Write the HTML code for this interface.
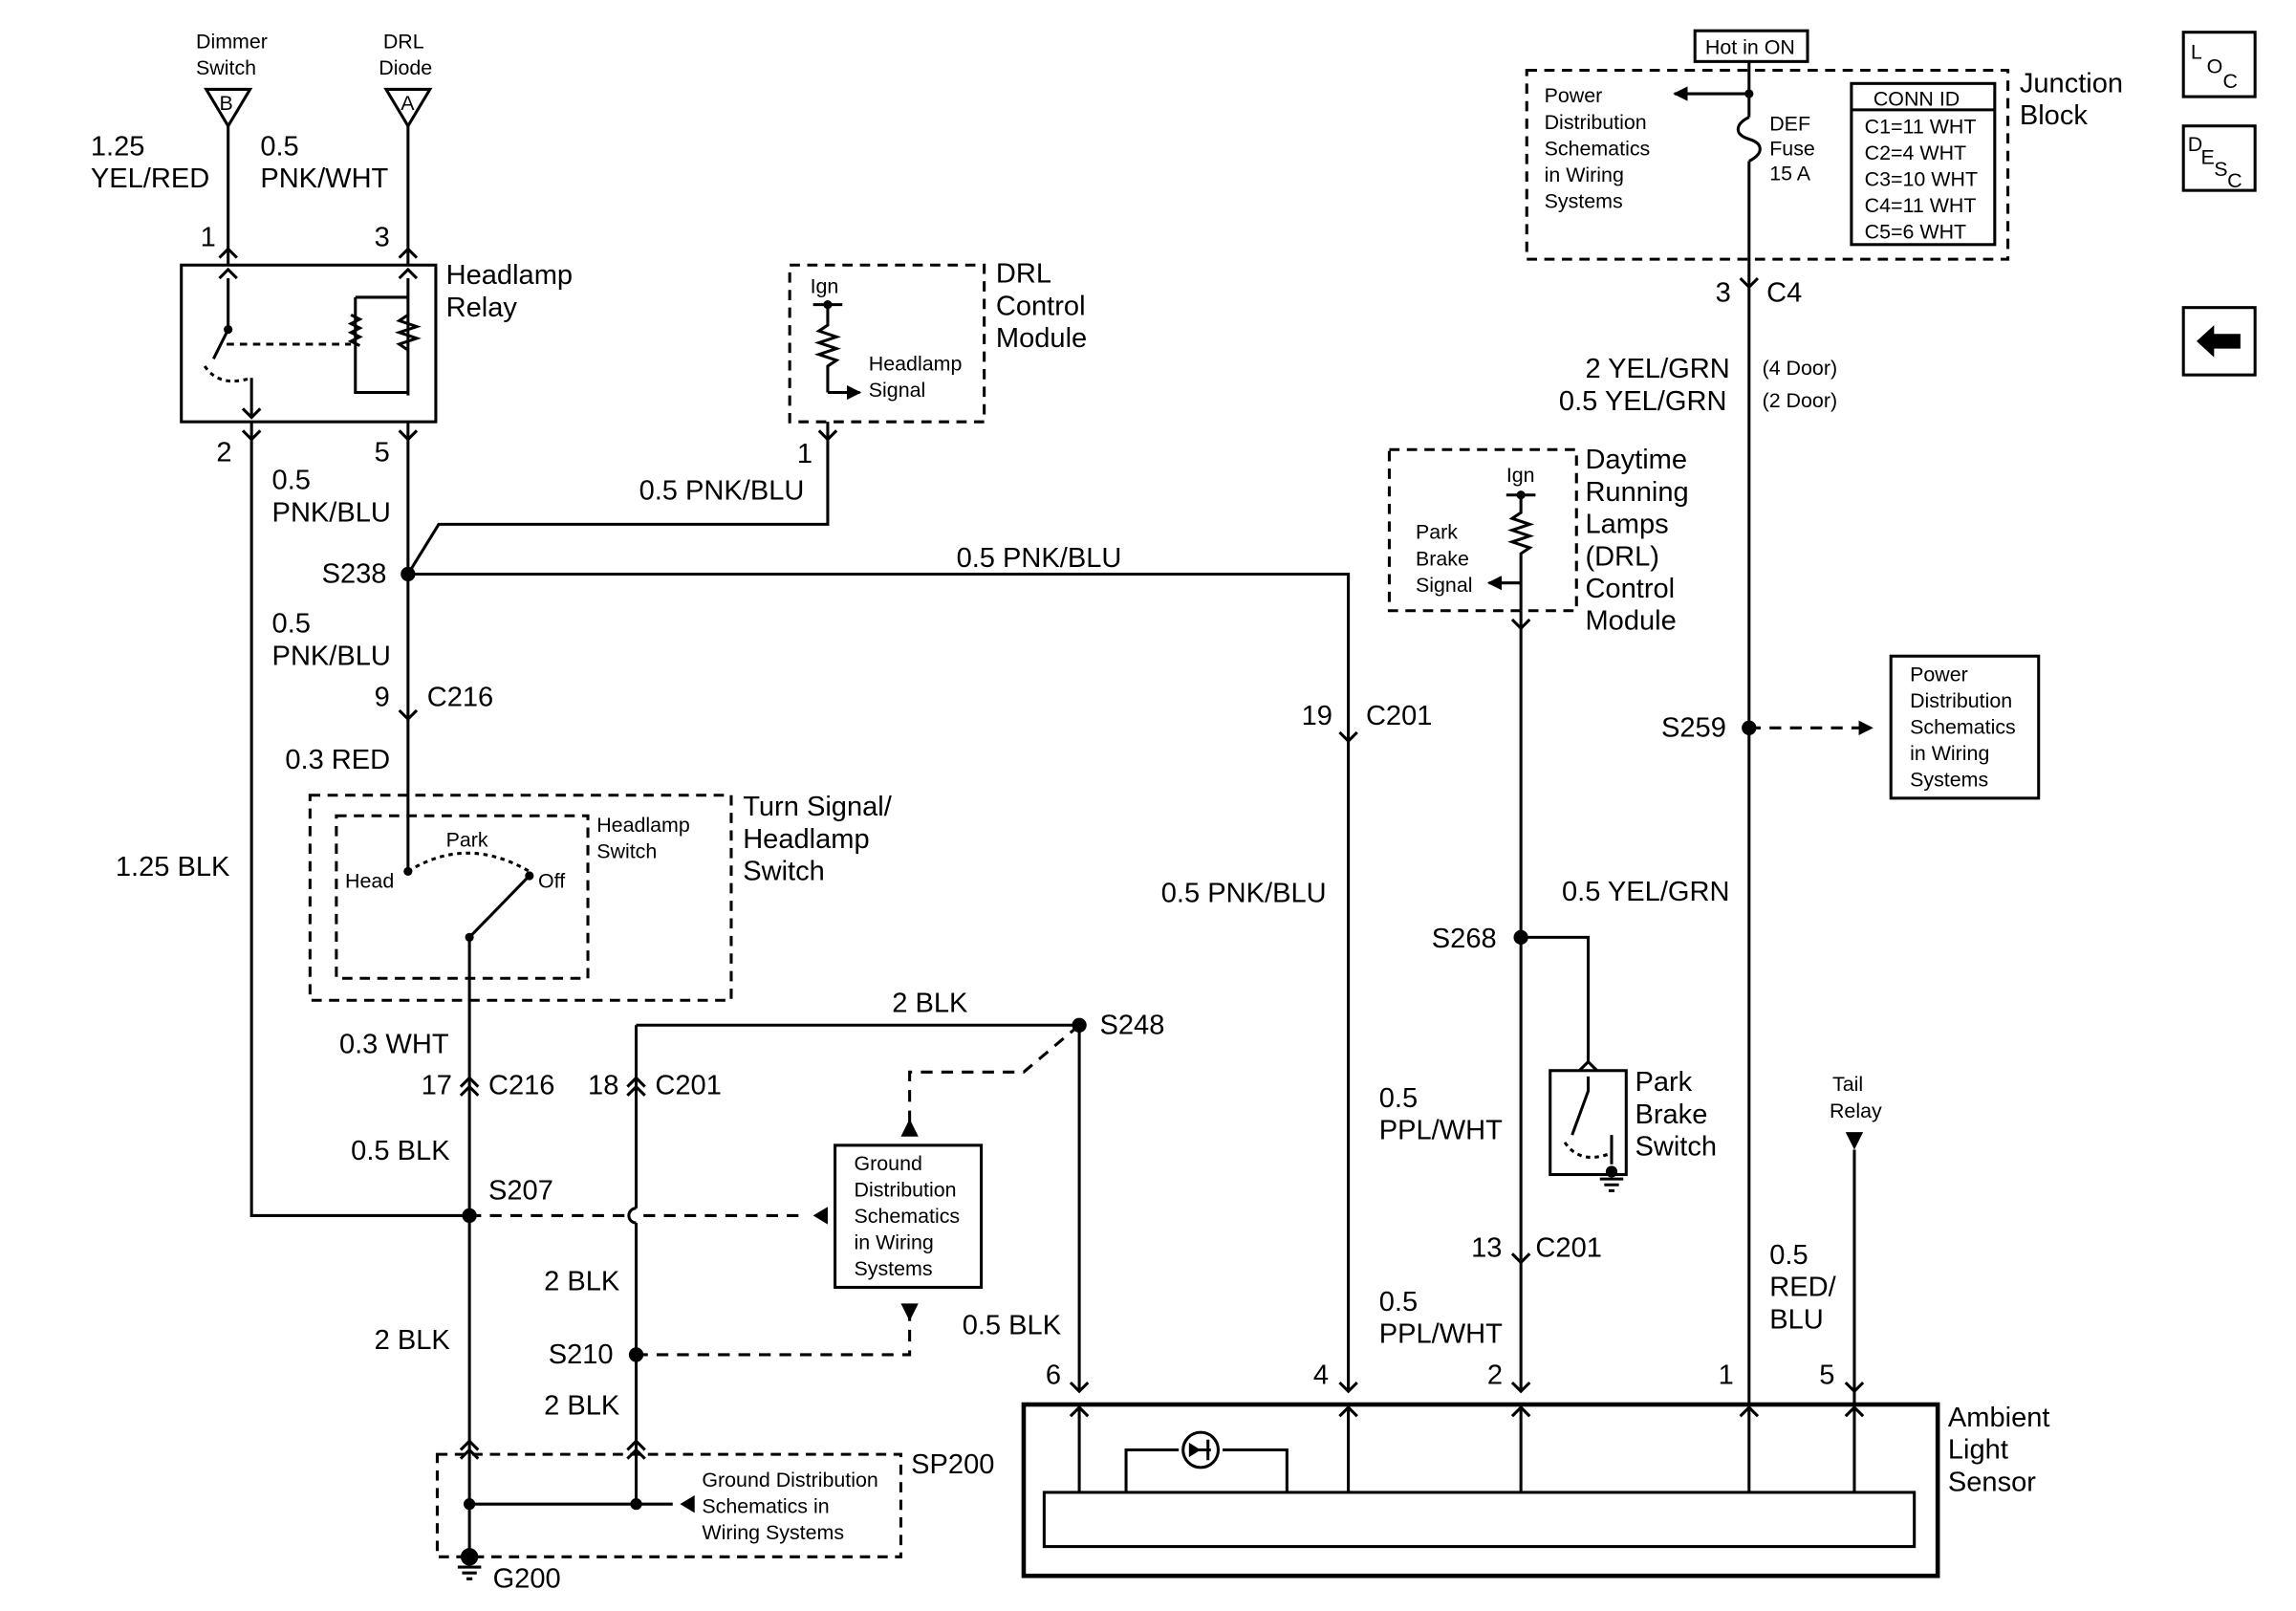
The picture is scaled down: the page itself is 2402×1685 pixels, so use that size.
<!DOCTYPE html>
<html><head><meta charset="utf-8"><style>
html,body{margin:0;padding:0;background:#fff}
svg{display:block}
text{font-family:"Liberation Sans",sans-serif;fill:#000}
.s{font-size:14px}.m{font-size:19px}
</style></head><body>
<svg width="2402" height="1685" viewBox="0 0 1570 1100" preserveAspectRatio="none" xmlns="http://www.w3.org/2000/svg">
<defs>
<marker id="ah" viewBox="0 0 10 10" refX="9" refY="5" markerWidth="5" markerHeight="5" orient="auto"><path d="M0,0L10,5L0,10z"/></marker>
</defs>
<g fill="none" stroke="#000" stroke-width="2">
<path d="M141,61H171L156,86Z M264,61H294L279,86Z"/>
<path d="M156,86V181 M279,86V181"/>
<path d="M150,176l6,-6l6,6 M273,176l6,-6l6,6"/>
<rect x="124" y="181" width="174" height="107"/>
<path d="M156,190V225l-10,20 M150,190l6,-6l6,6 M172,258V285 M166,279l6,6l6,-6"/>
<path d="M140,250q10,15 32,8" stroke-dasharray="3,3"/>
<path d="M155,235H240" stroke-dasharray="5,4"/>
<path d="M279,190V270 M243,203H279 M243,203V268H279 M273,190l6,-6l6,6"/>
<path d="M240,215l6,3l-6,3l6,3l-6,3l6,3l-6,3l6,3"/>
<path d="M279,215l-6,4l12,4l-12,4l12,4l-12,4l6,4"/>
<path d="M172,288V830H321 M166,294l6,6l6,-6 M273,294l6,6l6,-6"/>
<path d="M279,288V595 M273,485l6,6l6,-6"/>
<path d="M279,392L300,358H566V288 M560,294l6,6l6,-6"/>
<path d="M279,392H922V950 M916,500l6,6l6,-6 M916,944l6,6l6,-6"/>
<rect x="540" y="181" width="133" height="107" stroke-dasharray="7,5"/>
<path d="M566,208V222l-6,4l12,4l-12,4l12,4l-12,4l12,4l-6,4V268 M556,208H576"/>
<path d="M566,268H588" marker-end="url(#ah)"/>
<rect x="212" y="543" width="288" height="140" stroke-dasharray="7,5"/>
<rect x="230" y="557" width="172" height="111" stroke-dasharray="7,5"/>
<path d="M279,595q40,-25 83,0" stroke-dasharray="3,3"/>
<path d="M321,640L360,600 M321,640V830"/>
<path d="M315,742l6,-6l6,6 M315,748l6,-6l6,6 M429,742l6,-6l6,6 M429,748l6,-6l6,6"/>
<path d="M321,830V1063"/>
<path d="M435,700V825 M435,835V1027 M435,825a5,5 0 0 0 0,10"/>
<path d="M435,700H738V950 M732,944l6,6l6,-6"/>
<path d="M321,830H430 M440,830H550" stroke-dasharray="8,6"/>
<path d="M738,700L700,732H622V770" stroke-dasharray="8,6"/>
<path d="M435,925H622V895" stroke-dasharray="8,6"/>
<rect x="571" y="782" width="100" height="97"/>
<rect x="299" y="993" width="317" height="70" stroke-dasharray="7,5"/>
<path d="M321,1027H460 M315,990l6,-6l6,6 M315,996l6,-6l6,6 M429,990l6,-6l6,6 M429,996l6,-6l6,6"/>
<path d="M313,1070H329 M316,1074H326 M319,1078H323"/>
<rect x="1159" y="21" width="77" height="21"/>
<rect x="1044" y="48" width="329" height="129" stroke-dasharray="7,5"/>
<rect x="1266" y="57" width="98" height="110"/>
<path d="M1266,75H1364"/>
<path d="M1196,42V80 M1196,110V960"/>
<path d="M1196,80c-10,5 -10,12 0,15c10,3 10,10 0,15"/>
<path d="M1196,64H1145" marker-end="url(#ah)"/>
<path d="M1190,190l6,6l6,-6"/>
<path d="M1196,497H1280" stroke-dasharray="8,6" marker-end="url(#ah)"/>
<rect x="1293" y="448" width="101" height="97"/>
<rect x="950" y="307" width="128" height="110" stroke-dasharray="7,5"/>
<path d="M1030,338H1050 M1040,338V350l-6,4l12,4l-12,4l12,4l-12,4l12,4l-6,4V417"/>
<path d="M1040,398H1018" marker-end="url(#ah)"/>
<path d="M1040,417V950 M1034,423l6,6l6,-6 M1034,856l6,6l6,-6 M1034,944l6,6l6,-6"/>
<path d="M1040,640H1086V725 M1080,731l6,-6l6,6"/>
<rect x="1060" y="731" width="52" height="71"/>
<path d="M1086,735V745L1075,775 M1102,775V795 M1094,805H1110 M1097,809H1107 M1100,813H1104"/>
<path d="M1070,780q10,15 30,8" stroke-dasharray="3,3"/>
<path d="M1268,785V960 M1262,944l6,6l6,-6"/>
<rect x="700" y="959" width="625" height="117" stroke-width="3"/>
<rect x="714" y="1019" width="595" height="37"/>
<path d="M738,959V1019 M922,959V1019 M1040,959V1019 M1196,959V1019 M1268,959V1019"/>
<path d="M732,967l6,-6l6,6 M916,967l6,-6l6,6 M1034,967l6,-6l6,6 M1190,967l6,-6l6,6 M1262,967l6,-6l6,6"/>
<path d="M770,1019V990H806 M836,990H880V1019"/>
<circle cx="821" cy="990" r="12"/>
<path d="M814,990H828 M826,983V997"/>
<rect x="1493" y="22" width="49" height="44"/>
<rect x="1493" y="86" width="49" height="44"/>
<rect x="1493" y="210" width="49" height="46"/>
</g>
<g fill="#000">
<circle cx="279" cy="392" r="5"/><circle cx="321" cy="830" r="5"/><circle cx="435" cy="925" r="5"/>
<circle cx="738" cy="700" r="5"/><circle cx="321" cy="1027" r="4"/><circle cx="435" cy="1027" r="4"/>
<circle cx="321" cy="1063" r="6"/><circle cx="1196" cy="497" r="5"/><circle cx="1040" cy="640" r="5"/>
<circle cx="1196" cy="64" r="3"/><circle cx="1040" cy="338" r="3"/><circle cx="566" cy="208" r="3"/>
<circle cx="156" cy="225" r="3"/><circle cx="279" cy="595" r="3"/><circle cx="362" cy="598" r="3"/><circle cx="321" cy="640" r="3"/>
<circle cx="1102" cy="800" r="4"/>
<path d="M556,830l10,-6v12z M465,1027l10,-6v12z M622,764l-6,12h12z M622,902l-6,-12h12z M1268,785l-6,-12h12z M813,985v10l8,-5z"/>
<path d="M1502,233L1514,222V228H1532V238H1514V244Z"/>
</g>
<g>
<text class="s" x="134" y="33">Dimmer</text><text class="s" x="134" y="51">Switch</text>
<text class="s" x="262" y="33">DRL</text><text class="s" x="259" y="51">Diode</text>
<text class="s" x="150" y="75">B</text><text class="s" x="274" y="75">A</text>
<text class="m" x="62" y="106">1.25</text><text class="m" x="62" y="128">YEL/RED</text>
<text class="m" x="178" y="106">0.5</text><text class="m" x="178" y="128">PNK/WHT</text>
<text class="m" x="137" y="168">1</text><text class="m" x="256" y="168">3</text>
<text class="m" x="305" y="194">Headlamp</text><text class="m" x="305" y="216">Relay</text>
<text class="m" x="148" y="315">2</text><text class="m" x="256" y="315">5</text>
<text class="m" x="186" y="334">0.5</text><text class="m" x="186" y="356">PNK/BLU</text>
<text class="m" x="437" y="341">0.5 PNK/BLU</text><text class="m" x="545" y="316">1</text>
<text class="m" x="220" y="398">S238</text><text class="m" x="654" y="387">0.5 PNK/BLU</text>
<text class="s" x="554" y="200">Ign</text><text class="s" x="594" y="253">Headlamp</text><text class="s" x="594" y="271">Signal</text>
<text class="m" x="681" y="193">DRL</text><text class="m" x="681" y="215">Control</text><text class="m" x="681" y="237">Module</text>
<text class="m" x="186" y="432">0.5</text><text class="m" x="186" y="454">PNK/BLU</text>
<text class="m" x="256" y="482">9</text><text class="m" x="292" y="482">C216</text>
<text class="m" x="195" y="525">0.3 RED</text>
<text class="m" x="890" y="495">19</text><text class="m" x="934" y="495">C201</text>
<text class="m" x="794" y="616">0.5 PNK/BLU</text>
<text class="m" x="508" y="557">Turn Signal/</text><text class="m" x="508" y="579">Headlamp</text><text class="m" x="508" y="601">Switch</text>
<text class="s" x="408" y="568">Headlamp</text><text class="s" x="408" y="586">Switch</text>
<text class="s" x="236" y="606">Head</text><text class="s" x="305" y="578">Park</text><text class="s" x="368" y="606">Off</text>
<text class="m" x="79" y="598">1.25 BLK</text>
<text class="m" x="232" y="719">0.3 WHT</text>
<text class="m" x="288" y="747">17</text><text class="m" x="334" y="747">C216</text>
<text class="m" x="402" y="747">18</text><text class="m" x="448" y="747">C201</text>
<text class="m" x="610" y="691">2 BLK</text><text class="m" x="752" y="706">S248</text>
<text class="m" x="240" y="792">0.5 BLK</text><text class="m" x="334" y="819">S207</text>
<text class="s" x="584" y="799">Ground</text><text class="s" x="584" y="817">Distribution</text><text class="s" x="584" y="835">Schematics</text><text class="s" x="584" y="853">in Wiring</text><text class="s" x="584" y="871">Systems</text>
<text class="m" x="372" y="881">2 BLK</text><text class="m" x="256" y="921">2 BLK</text>
<text class="m" x="375" y="931">S210</text><text class="m" x="372" y="966">2 BLK</text>
<text class="m" x="658" y="911">0.5 BLK</text>
<text class="m" x="623" y="1006">SP200</text>
<text class="s" x="480" y="1015">Ground Distribution</text><text class="s" x="480" y="1033">Schematics in</text><text class="s" x="480" y="1051">Wiring Systems</text>
<text class="m" x="337" y="1084">G200</text>
<text class="s" x="1166" y="37">Hot in ON</text>
<text class="s" x="1056" y="70">Power</text><text class="s" x="1056" y="88">Distribution</text><text class="s" x="1056" y="106">Schematics</text><text class="s" x="1056" y="124">in Wiring</text><text class="s" x="1056" y="142">Systems</text>
<text class="s" x="1210" y="89">DEF</text><text class="s" x="1210" y="106">Fuse</text><text class="s" x="1210" y="123">15 A</text>
<text class="s" x="1281" y="72">CONN ID</text>
<text class="s" x="1275" y="91">C1=11 WHT</text><text class="s" x="1275" y="109">C2=4 WHT</text><text class="s" x="1275" y="127">C3=10 WHT</text><text class="s" x="1275" y="145">C4=11 WHT</text><text class="s" x="1275" y="163">C5=6 WHT</text>
<text class="m" x="1381" y="63">Junction</text><text class="m" x="1381" y="85">Block</text>
<text class="m" x="1173" y="206">3</text><text class="m" x="1208" y="206">C4</text>
<text class="m" x="1084" y="258">2 YEL/GRN</text><text class="s" x="1205" y="256">(4 Door)</text>
<text class="m" x="1066" y="280">0.5 YEL/GRN</text><text class="s" x="1205" y="278">(2 Door)</text>
<text class="s" x="1030" y="329">Ign</text>
<text class="s" x="968" y="368">Park</text><text class="s" x="968" y="386">Brake</text><text class="s" x="968" y="404">Signal</text>
<text class="m" x="1084" y="320">Daytime</text><text class="m" x="1084" y="342">Running</text><text class="m" x="1084" y="364">Lamps</text><text class="m" x="1084" y="386">(DRL)</text><text class="m" x="1084" y="408">Control</text><text class="m" x="1084" y="430">Module</text>
<text class="m" x="1136" y="503">S259</text>
<text class="s" x="1306" y="465">Power</text><text class="s" x="1306" y="483">Distribution</text><text class="s" x="1306" y="501">Schematics</text><text class="s" x="1306" y="519">in Wiring</text><text class="s" x="1306" y="537">Systems</text>
<text class="m" x="1068" y="615">0.5 YEL/GRN</text>
<text class="m" x="979" y="647">S268</text>
<text class="m" x="1118" y="745">Park</text><text class="m" x="1118" y="767">Brake</text><text class="m" x="1118" y="789">Switch</text>
<text class="s" x="1253" y="745">Tail</text><text class="s" x="1251" y="763">Relay</text>
<text class="m" x="943" y="756">0.5</text><text class="m" x="943" y="778">PPL/WHT</text>
<text class="m" x="1006" y="858">13</text><text class="m" x="1050" y="858">C201</text>
<text class="m" x="943" y="895">0.5</text><text class="m" x="943" y="917">PPL/WHT</text>
<text class="m" x="1210" y="863">0.5</text><text class="m" x="1210" y="885">RED/</text><text class="m" x="1210" y="907">BLU</text>
<text class="m" x="715" y="945">6</text><text class="m" x="898" y="945">4</text><text class="m" x="1017" y="945">2</text><text class="m" x="1175" y="945">1</text><text class="m" x="1244" y="945">5</text>
<text class="m" x="1332" y="974">Ambient</text><text class="m" x="1332" y="996">Light</text><text class="m" x="1332" y="1018">Sensor</text>
<text class="s" x="1498" y="40">L</text><text class="s" x="1509" y="50">O</text><text class="s" x="1520" y="60">C</text>
<text class="s" x="1496" y="103">D</text><text class="s" x="1505" y="112">E</text><text class="s" x="1514" y="120">S</text><text class="s" x="1523" y="128">C</text>
</g>
</svg>
</body></html>
